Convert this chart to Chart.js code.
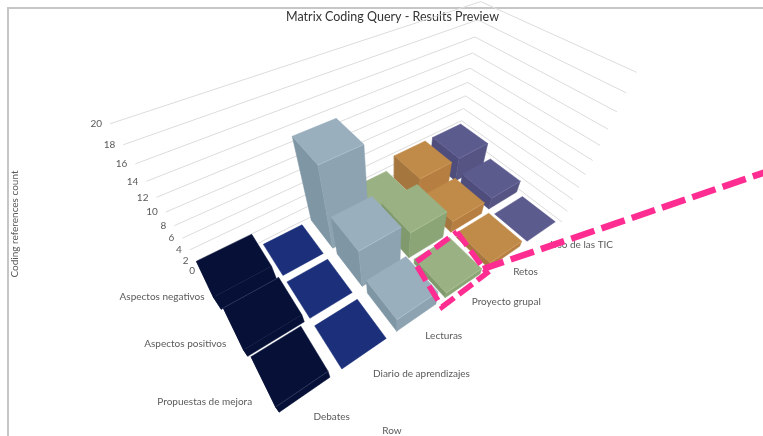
<!DOCTYPE html>
<html>
<head>
<meta charset="utf-8">
<style>
  html, body { margin: 0; padding: 0; background: #fff; }
  #frame { position: absolute; left: 7px; top: 7px; width: 756px; height: 429px; border-left: 2px solid #c6c6c6; border-top: 2px solid #c6c6c6; box-sizing: border-box; }
  #chart { position: absolute; left: 0; top: 0; }
</style>
<script src="https://cdn.jsdelivr.net/npm/chart.js@4"></script>
</head>
<body>
<div id="frame"></div>
<canvas id="chart" width="763" height="436"></canvas>
<script>
const rows = ['Aspectos negativos', 'Aspectos positivos', 'Propuestas de mejora'];
const columns = ['Debates', 'Diario de aprendizajes', 'Lecturas', 'Proyecto grupal', 'Retos', 'Uso de las TIC'];
const zTicks = [0, 2, 4, 6, 8, 10, 12, 14, 16, 18, 20];

// coding references per row (negativos, positivos, propuestas)
const debates = [2.5, 1.5, 1.5];
const diario = [0, 0, 0];
const lecturas = [13, 6.5, 2.5];
const proyecto = [2, 4.6, 1];
const retos = [4, 2, 1];
const uso = [4, 2, 0];
const values = [debates, diario, lecturas, proyecto, retos, uso];

// top, left side, right side, edge
const palette = [
  ['#071138', '#071138', '#071138', '#2b3459'],
  ['#1b2f7a', '#1b2f7a', '#1b2f7a', '#1b2f7a'],
  ['#9aafbe', '#7f96a4', '#8da3b1', '#a9bcc9'],
  ['#9ab183', '#809a6d', '#8ba576', '#a9bf93'],
  ['#c08a49', '#a6763f', '#b67f41', '#cc9a5c'],
  ['#5c5b8e', '#4e4d7c', '#555483', '#6c6b9c']
];

// camera: ground corners seen on the picture, vertical vanishing point
const ground = { L: [203, 271], B: [458, 143], R: [562, 222], F: [275, 422] };
const vertical = [390, 567];
const TITLE_H = 26;
const TITLE_SHIFT = 22;

// hand drawn highlight over the screenshot, in page pixels
const markBox = [[457, 232], [487, 273], [442, 307], [415, 263], [457, 232]];
const markLine = [[776, 168.5], [483, 269]];

const H = (function () {
  const [x0, y0] = ground.L, [x1, y1] = ground.B, [x2, y2] = ground.R, [x3, y3] = ground.F;
  const dx1 = x1 - x2, dx2 = x3 - x2, sx = x0 - x1 + x2 - x3;
  const dy1 = y1 - y2, dy2 = y3 - y2, sy = y0 - y1 + y2 - y3;
  const den = dx1 * dy2 - dx2 * dy1;
  const g = (sx * dy2 - dx2 * sy) / den, h = (dx1 * sy - sx * dy1) / den;
  return {
    a: x1 - x0 + g * x1, b: x3 - x0 + h * x3, c: x0,
    d: y1 - y0 + g * y1, e: y3 - y0 + h * y3, f: y0,
    g, h,
    k: (110 - x0) / (20 * (vertical[0] - 110))
  };
})();

function project(u, v, z) {
  const s = u / columns.length, t = v / rows.length;
  const w = H.g * s + H.h * t + 1 + H.k * z;
  return {
    x: (H.a * s + H.b * t + H.c + H.k * z * vertical[0]) / w,
    y: (H.d * s + H.e * t + H.f + H.k * z * vertical[1]) / w
  };
}

// the two dark bars nearest the left corner look wider than their cell in the picture
function barSpan(c, r) {
  if (c === 0 && r === 0) return [0, 0.98];
  if (c === 0 && r === 1) return [0.05, 1];
  return [c + 0.1, c + 0.9];
}

const datasets = [];

function addFace(points, fill) {
  datasets.push({
    data: points.concat([points[0]]),
    showLine: true,
    fill: 'shape',
    backgroundColor: fill,
    borderColor: fill,
    borderWidth: 0.5,
    pointRadius: 0,
    tension: 0,
    clip: false
  });
}

function addPath(points, color, width, dash) {
  datasets.push({
    data: points,
    showLine: true,
    fill: false,
    borderColor: color,
    borderWidth: width,
    borderDash: dash || [],
    pointRadius: 0,
    tension: 0,
    clip: false
  });
}

// grid lines on the two back walls
zTicks.forEach(z => {
  addPath([project(0, 0, z), project(columns.length, 0, z), project(columns.length, rows.length, z)], '#dcdcdc', 1);
});

// bars, back to front
for (let c = columns.length - 1; c >= 0; c--) {
  for (let r = 0; r < rows.length; r++) {
    const z = values[c][r];
    const [u0, u1] = barSpan(c, r);
    const v0 = r + 0.08, v1 = r + 0.92;
    const [top, left, right, edge] = palette[c];
    if (z > 0) {
      addFace([project(u0, v0, 0), project(u0, v1, 0), project(u0, v1, z), project(u0, v0, z)], left);
      addFace([project(u0, v1, 0), project(u1, v1, 0), project(u1, v1, z), project(u0, v1, z)], right);
    }
    addFace([project(u0, v0, z), project(u1, v0, z), project(u1, v1, z), project(u0, v1, z)], top);
    if (z > 0) {
      if (c === 0 && r === 1) {
        // the dark row shows this bar's back edge, not its front one
        addPath([project(u0, v0, z), project(u1, v0, z)], edge, 1);
      } else if (c !== 0 || r === 2) {
        addPath([project(u0, v1, z), project(u1, v1, z)], edge, 1);
      }
    }
  }
}

const toPoints = list => list.map(p => ({ x: p[0], y: p[1] }));
addPath(toPoints(markBox), '#ff2d92', 5.5, [17, 6]);
addPath(toPoints(markLine), '#ff2d92', 6.5, [24.5, 7.5]);

const labelsPlugin = {
  id: 'labels3d',
  beforeDatasetsDraw(chart) {
    const ctx = chart.ctx;
    const sx = chart.scales.x, sy = chart.scales.y;
    const put = (p, dx, dy) => [sx.getPixelForValue(p.x) + dx, sy.getPixelForValue(p.y) + dy];
    ctx.save();
    ctx.fillStyle = '#5a5a5a';
    ctx.font = '10px Lato';
    ctx.textBaseline = 'middle';

    ctx.textAlign = 'right';
    zTicks.forEach(z => {
      const [x, y] = put(project(0, 0, z), -8, 0);
      ctx.fillText(String(z), x, y);
    });
    rows.forEach((name, r) => {
      const [x, y] = put(project(0, r + 0.5, 0), -8, 6 + r * r * 1.25);
      ctx.fillText(name, x, y);
    });

    ctx.textAlign = 'left';
    columns.forEach((name, c) => {
      const [x, y] = put(project(c + 0.5, rows.length, 0), 5.5, 18 - 1.5 * c);
      ctx.fillText(name, x, y);
    });

    ctx.textAlign = 'center';
    ctx.fillText('Row', sx.getPixelForValue(392), sy.getPixelForValue(431));
    ctx.translate(15, 224);
    ctx.rotate(-Math.PI / 2);
    ctx.fillText('Coding references count', 0, 0);
    ctx.restore();
  }
};

new Chart(document.getElementById('chart'), {
  type: 'scatter',
  // Chart.js draws the first dataset on top
  data: { datasets: datasets.slice().reverse() },
  plugins: [labelsPlugin],
  options: {
    responsive: false,
    animation: false,
    layout: { padding: { left: TITLE_SHIFT } },
    scales: {
      x: { type: 'linear', display: false, min: TITLE_SHIFT, max: 763 },
      y: { type: 'linear', display: false, reverse: true, min: TITLE_H, max: 436 }
    },
    plugins: {
      legend: { display: false },
      tooltip: { enabled: false },
      title: {
        display: true,
        text: 'Matrix Coding Query - Results Preview',
        color: '#333333',
        font: { family: 'Lato', size: 12.5, weight: 'normal', lineHeight: 1.2 },
        padding: { top: 9, bottom: 2 }
      }
    }
  }
});
</script>
</body>
</html>
